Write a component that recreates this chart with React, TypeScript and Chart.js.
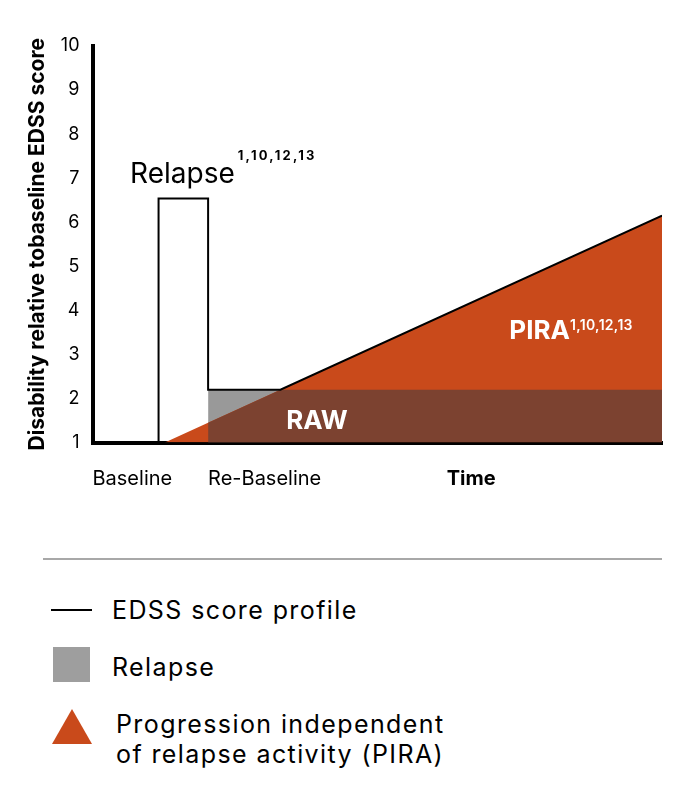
import React, { useRef, useEffect } from 'react';
import { Chart, registerables } from 'chart.js';

Chart.register(...registerables);

// EDSS score profile (black outline)
const edssX = [0, 11.6, 11.6, 20.3, 20.3, 33.0, 100];
const edssY = [1, 1, 6.54, 6.54, 2.2, 2.2, 6.15];

// Relapse (grey) residual block
const relapseX = [20.3, 33.0];
const relapseY = [2.2, 2.2];

// PIRA triangle
const piraX = [12.7, 100];
const piraY = [1, 6.15];

// RAW band (overlap of relapse residual and PIRA)
const rawX = [20.3, 33.0, 100];
const rawY = [1.45, 2.2, 2.2];

const xTickValues = [0, 20.3, 62.2];
const xTickLabels = ['Baseline', 'Re-Baseline', 'Time'];

const FONT = 'Inter';
const ORANGE = '#C94A1B';
const BROWN = '#7C4230';
const GREY = '#999999';

const toPoints = (xs: number[], ys: number[]) => xs.map((v, i) => ({ x: v, y: ys[i] }));

// Textos dentro del gráfico
const annotationPlugin = {
    id: 'chartAnnotations',
    afterDatasetsDraw(chart: any) {
        const { ctx, scales } = chart;
        const x = scales.x;
        const y = scales.y;

        const drawLabel = (text: string, sup: string, xv: number, yv: number, color: string,
                           font: string, supFont: string, rise: number, spacing: string, gap: number) => {
            const px = x.getPixelForValue(xv);
            const py = y.getPixelForValue(yv);
            ctx.fillStyle = color;
            ctx.font = font;
            ctx.letterSpacing = '0px';
            ctx.fillText(text, px, py);
            const w = ctx.measureText(text).width;
            ctx.font = supFont;
            ctx.letterSpacing = spacing;
            ctx.fillText(sup, px + w + gap, py - rise);
        };

        ctx.save();
        ctx.textAlign = 'left';
        ctx.textBaseline = 'alphabetic';
        drawLabel('Relapse', '1,10,12,13', 6.6, 6.88, '#000',
            `400 28px ${FONT}`, `700 13px ${FONT}`, 23, '2.2px', 3);
        drawLabel('PIRA', '1,10,12,13', 73.2, 3.34, '#fff',
            `700 26px ${FONT}`, `600 14px ${FONT}`, 9, '0.3px', 0);
        ctx.font = `700 26px ${FONT}`;
        ctx.letterSpacing = '0px';
        ctx.fillStyle = '#fff';
        ctx.fillText('RAW', x.getPixelForValue(34.0), y.getPixelForValue(1.3));
        ctx.restore();
    }
};

const PiraChart: React.FC = () => {
    const chartRef = useRef<HTMLCanvasElement>(null);
    const chartInstanceRef = useRef<Chart | null>(null);

    useEffect(() => {
        if (!chartRef.current) return;
        const ctx = chartRef.current.getContext('2d');
        if (!ctx) return;

        if (chartInstanceRef.current) {
            chartInstanceRef.current.destroy();
        }

        chartInstanceRef.current = new Chart(ctx, {
            type: 'line',
            data: {
                datasets: [
                    {
                        label: 'EDSS score profile',
                        data: toPoints(edssX, edssY),
                        borderColor: '#000',
                        borderWidth: 2,
                        borderJoinStyle: 'miter',
                        fill: false,
                        pointRadius: 0,
                        tension: 0,
                        order: 0,
                    },
                    {
                        label: 'RAW',
                        data: toPoints(rawX, rawY),
                        borderWidth: 0,
                        backgroundColor: BROWN,
                        fill: 'start',
                        pointRadius: 0,
                        order: 1,
                    },
                    {
                        label: 'PIRA',
                        data: toPoints(piraX, piraY),
                        borderWidth: 0,
                        backgroundColor: ORANGE,
                        fill: 'start',
                        pointRadius: 0,
                        order: 2,
                    },
                    {
                        label: 'Relapse',
                        data: toPoints(relapseX, relapseY),
                        borderWidth: 0,
                        backgroundColor: GREY,
                        fill: 'start',
                        pointRadius: 0,
                        order: 3,
                    },
                ] as any,
            },
            options: {
                responsive: true,
                maintainAspectRatio: false,
                animation: false,
                layout: { padding: { top: 38, right: 16, left: 0, bottom: 0 } },
                plugins: {
                    legend: { display: false },
                    tooltip: { enabled: false },
                },
                scales: {
                    x: {
                        type: 'linear',
                        min: 0,
                        max: 100,
                        grid: { display: false, drawTicks: false },
                        border: { display: true, color: '#000', width: 4 },
                        afterBuildTicks: (scale: any) => {
                            scale.ticks = xTickValues.map(v => ({ value: v }));
                        },
                        afterFit: (scale: any) => { scale.height = 65.5; },
                        ticks: {
                            autoSkip: false,
                            maxRotation: 0,
                            align: 'start',
                            padding: 24,
                            color: '#000',
                            font: (c: any) => ({
                                family: FONT,
                                size: 20,
                                weight: c.index === 2 ? 'bold' : 'normal',
                            }),
                            callback: (_v: any, i: number) => xTickLabels[i],
                        },
                    },
                    y: {
                        type: 'linear',
                        min: 1,
                        max: 10,
                        grid: { display: false, drawTicks: false },
                        border: { display: true, color: '#000', width: 4 },
                        afterFit: (scale: any) => { scale.width = 84.5; },
                        ticks: {
                            stepSize: 1,
                            padding: 13,
                            color: '#000',
                            font: { family: FONT, size: 18 },
                        },
                        title: {
                            display: true,
                            text: 'Disability relative tobaseline EDSS score',
                            color: '#000',
                            font: { family: FONT, size: 21, weight: 'bold' },
                            padding: { top: 17, bottom: 0 },
                        },
                    },
                },
            } as any,
            plugins: [annotationPlugin],
        });

        return () => {
            if (chartInstanceRef.current) {
                chartInstanceRef.current.destroy();
                chartInstanceRef.current = null;
            }
        };
    }, []);

    const text: React.CSSProperties = {
        position: 'absolute',
        fontFamily: FONT,
        fontSize: 25,
        lineHeight: '30px',
        color: '#000',
        whiteSpace: 'nowrap',
        letterSpacing: 1.4,
    };

    return (
        <div style={{ width: 670, fontFamily: FONT }}>
            <div style={{ position: 'relative', width: 670, height: 500 }}>
                <canvas ref={chartRef}></canvas>
            </div>
            {/* Leyenda */}
            <div style={{ position: 'relative', width: 670, height: 279 }}>
                <div style={{ position: 'absolute', left: 35, top: 50, width: 619, height: 2, background: '#a8a8a8' }} />
                <div style={{ position: 'absolute', left: 43, top: 101, width: 41, height: 2, background: '#000' }} />
                <div style={{ ...text, left: 104, top: 87 }}>EDSS score profile</div>
                <div style={{ position: 'absolute', left: 45, top: 139, width: 37, height: 35, background: '#9e9e9e' }} />
                <div style={{ ...text, left: 104, top: 143.5 }}>Relapse</div>
                <div style={{
                    position: 'absolute', left: 44, top: 201, width: 40, height: 35,
                    background: ORANGE, clipPath: 'polygon(50% 0, 100% 100%, 0 100%)',
                }} />
                <div style={{ ...text, left: 108, top: 201 }}>
                    Progression independent<br />of relapse activity (PIRA)
                </div>
            </div>
        </div>
    );
};

export default PiraChart;
